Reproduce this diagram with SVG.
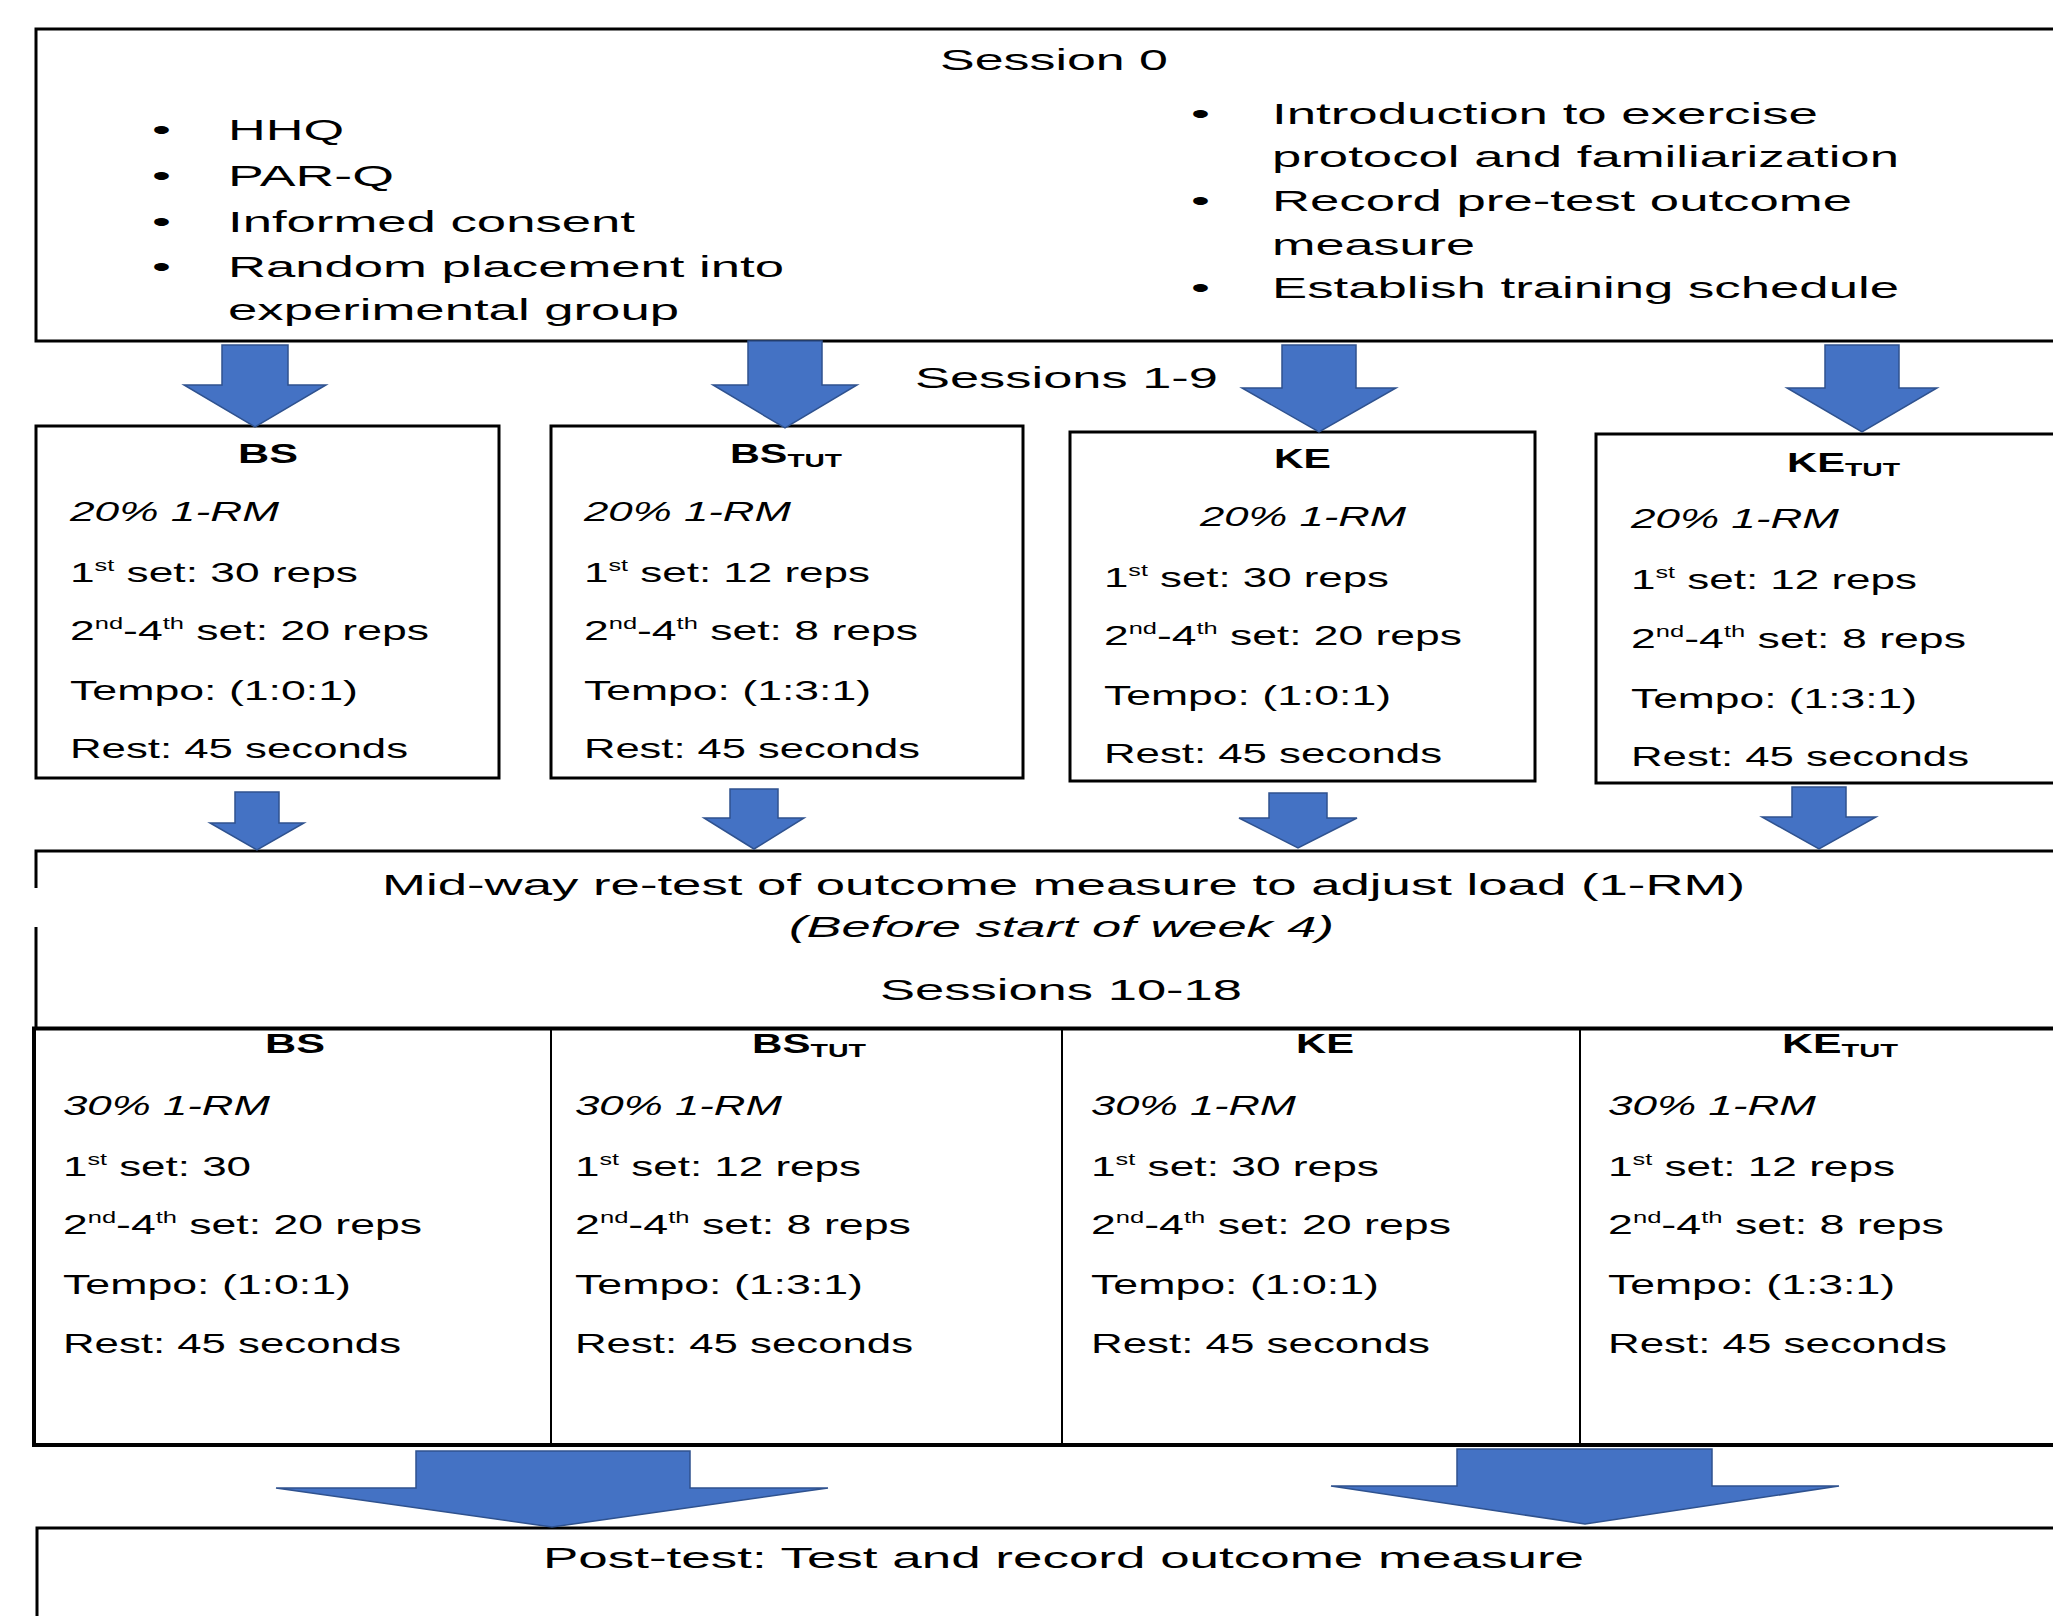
<svg xmlns="http://www.w3.org/2000/svg" width="2053" height="1616" viewBox="0 0 2053 1616">
<defs>
<style>
.t{font-family:"Liberation Sans",Arial,sans-serif;font-size:28px;fill:#000}
.big{font-size:30px}
.i{font-style:italic}
.b{font-weight:bold}
.ln{fill:none;stroke:#000;stroke-width:3}
.thin{fill:none;stroke:#000;stroke-width:2}
.thick{fill:none;stroke:#000;stroke-width:4}
.arr{fill:#4472C4;stroke:#2F528F;stroke-width:1.5}
</style>
</defs>
<rect width="2053" height="1616" fill="#fff"/>

<g id="session0">
<path class="ln" d="M2060 29 H36 V341 H2060"/>
<text class="t big" x="940" y="70" textLength="228" lengthAdjust="spacingAndGlyphs">Session 0</text>
<text class="t big" x="152" y="140" textLength="19" lengthAdjust="spacingAndGlyphs">•</text>
<text class="t big" x="152" y="186" textLength="19" lengthAdjust="spacingAndGlyphs">•</text>
<text class="t big" x="152" y="232" textLength="19" lengthAdjust="spacingAndGlyphs">•</text>
<text class="t big" x="152" y="277" textLength="19" lengthAdjust="spacingAndGlyphs">•</text>
<text class="t big" x="228" y="140" textLength="116" lengthAdjust="spacingAndGlyphs">HHQ</text>
<text class="t big" x="228" y="186" textLength="166" lengthAdjust="spacingAndGlyphs">PAR-Q</text>
<text class="t big" x="228" y="232" textLength="407" lengthAdjust="spacingAndGlyphs">Informed consent</text>
<text class="t big" x="228" y="277" textLength="556" lengthAdjust="spacingAndGlyphs">Random placement into</text>
<text class="t big" x="228" y="320" textLength="451" lengthAdjust="spacingAndGlyphs">experimental group</text>
<text class="t big" x="1191" y="124" textLength="19" lengthAdjust="spacingAndGlyphs">•</text>
<text class="t big" x="1191" y="211" textLength="19" lengthAdjust="spacingAndGlyphs">•</text>
<text class="t big" x="1191" y="298" textLength="19" lengthAdjust="spacingAndGlyphs">•</text>
<text class="t big" x="1272" y="124" textLength="546" lengthAdjust="spacingAndGlyphs">Introduction to exercise</text>
<text class="t big" x="1272" y="167" textLength="627" lengthAdjust="spacingAndGlyphs">protocol and familiarization</text>
<text class="t big" x="1272" y="211" textLength="580" lengthAdjust="spacingAndGlyphs">Record pre-test outcome</text>
<text class="t big" x="1272" y="255" textLength="203" lengthAdjust="spacingAndGlyphs">measure</text>
<text class="t big" x="1272" y="298" textLength="627" lengthAdjust="spacingAndGlyphs">Establish training schedule</text>
</g>

<g id="sessions1-9-label">
<text class="t big" x="915" y="388" textLength="303" lengthAdjust="spacingAndGlyphs">Sessions 1-9</text>
</g>

<g id="bs1">
<rect class="ln" x="36" y="426" width="463" height="352"/>
<text class="t b" x="238" y="463" textLength="60" lengthAdjust="spacingAndGlyphs">BS</text>
<text class="t i" x="70" y="521" textLength="209" lengthAdjust="spacingAndGlyphs">20% 1-RM</text>
<text class="t" x="70" y="582" textLength="288" lengthAdjust="spacingAndGlyphs">1<tspan font-size="16" dy="-11">st</tspan><tspan dy="11"> set: 30 reps</tspan></text>
<text class="t" x="70" y="640" textLength="359" lengthAdjust="spacingAndGlyphs">2<tspan font-size="16" dy="-11">nd</tspan><tspan dy="11">-4</tspan><tspan font-size="16" dy="-11">th</tspan><tspan dy="11"> set: 20 reps</tspan></text>
<text class="t" x="70" y="700" textLength="288" lengthAdjust="spacingAndGlyphs">Tempo: (1:0:1)</text>
<text class="t" x="70" y="758" textLength="338" lengthAdjust="spacingAndGlyphs">Rest: 45 seconds</text>
</g>

<g id="bstut1">
<rect class="ln" x="551" y="426" width="472" height="352"/>
<text class="t b" x="730" y="463" textLength="112" lengthAdjust="spacingAndGlyphs">BS<tspan font-size="19" dy="4">TUT</tspan></text>
<text class="t i" x="584" y="521" textLength="207" lengthAdjust="spacingAndGlyphs">20% 1-RM</text>
<text class="t" x="584" y="582" textLength="286" lengthAdjust="spacingAndGlyphs">1<tspan font-size="16" dy="-11">st</tspan><tspan dy="11"> set: 12 reps</tspan></text>
<text class="t" x="584" y="640" textLength="334" lengthAdjust="spacingAndGlyphs">2<tspan font-size="16" dy="-11">nd</tspan><tspan dy="11">-4</tspan><tspan font-size="16" dy="-11">th</tspan><tspan dy="11"> set: 8 reps</tspan></text>
<text class="t" x="584" y="700" textLength="287" lengthAdjust="spacingAndGlyphs">Tempo: (1:3:1)</text>
<text class="t" x="584" y="758" textLength="336" lengthAdjust="spacingAndGlyphs">Rest: 45 seconds</text>
</g>

<g id="ke1">
<rect class="ln" x="1070" y="432" width="465" height="349"/>
<text class="t b" x="1274" y="468" textLength="57" lengthAdjust="spacingAndGlyphs">KE</text>
<text class="t i" x="1200" y="526" textLength="206" lengthAdjust="spacingAndGlyphs">20% 1-RM</text>
<text class="t" x="1104" y="587" textLength="285" lengthAdjust="spacingAndGlyphs">1<tspan font-size="16" dy="-11">st</tspan><tspan dy="11"> set: 30 reps</tspan></text>
<text class="t" x="1104" y="645" textLength="358" lengthAdjust="spacingAndGlyphs">2<tspan font-size="16" dy="-11">nd</tspan><tspan dy="11">-4</tspan><tspan font-size="16" dy="-11">th</tspan><tspan dy="11"> set: 20 reps</tspan></text>
<text class="t" x="1104" y="705" textLength="287" lengthAdjust="spacingAndGlyphs">Tempo: (1:0:1)</text>
<text class="t" x="1104" y="763" textLength="338" lengthAdjust="spacingAndGlyphs">Rest: 45 seconds</text>
</g>

<g id="ketut1">
<path class="ln" d="M2060 434 H1596 V783 H2060"/>
<text class="t b" x="1787" y="472" textLength="113" lengthAdjust="spacingAndGlyphs">KE<tspan font-size="19" dy="4">TUT</tspan></text>
<text class="t i" x="1631" y="528" textLength="208" lengthAdjust="spacingAndGlyphs">20% 1-RM</text>
<text class="t" x="1631" y="589" textLength="286" lengthAdjust="spacingAndGlyphs">1<tspan font-size="16" dy="-11">st</tspan><tspan dy="11"> set: 12 reps</tspan></text>
<text class="t" x="1631" y="648" textLength="335" lengthAdjust="spacingAndGlyphs">2<tspan font-size="16" dy="-11">nd</tspan><tspan dy="11">-4</tspan><tspan font-size="16" dy="-11">th</tspan><tspan dy="11"> set: 8 reps</tspan></text>
<text class="t" x="1631" y="708" textLength="286" lengthAdjust="spacingAndGlyphs">Tempo: (1:3:1)</text>
<text class="t" x="1631" y="766" textLength="338" lengthAdjust="spacingAndGlyphs">Rest: 45 seconds</text>
</g>

<g id="midway">
<path class="ln" d="M2060 851 H36 V888 M36 927 V1028"/>
<text class="t big" x="382" y="895" textLength="1363" lengthAdjust="spacingAndGlyphs">Mid-way re-test of outcome measure to adjust load (1-RM)</text>
<text class="t big i" x="789" y="937" textLength="545" lengthAdjust="spacingAndGlyphs">(Before start of week 4)</text>
<text class="t big" x="880" y="1000" textLength="362" lengthAdjust="spacingAndGlyphs">Sessions 10-18</text>
</g>

<g id="table2">
<path class="thick" d="M2060 1028.5 H34 V1445 H2060"/>
<path class="thin" d="M551 1028 V1445 M1062 1028 V1445 M1580 1028 V1445"/>
</g>

<g id="bs2">
<text class="t b" x="265" y="1053" textLength="60" lengthAdjust="spacingAndGlyphs">BS</text>
<text class="t i" x="63" y="1115" textLength="207" lengthAdjust="spacingAndGlyphs">30% 1-RM</text>
<text class="t" x="63" y="1176" textLength="188" lengthAdjust="spacingAndGlyphs">1<tspan font-size="16" dy="-11">st</tspan><tspan dy="11"> set: 30</tspan></text>
<text class="t" x="63" y="1234" textLength="359" lengthAdjust="spacingAndGlyphs">2<tspan font-size="16" dy="-11">nd</tspan><tspan dy="11">-4</tspan><tspan font-size="16" dy="-11">th</tspan><tspan dy="11"> set: 20 reps</tspan></text>
<text class="t" x="63" y="1294" textLength="288" lengthAdjust="spacingAndGlyphs">Tempo: (1:0:1)</text>
<text class="t" x="63" y="1353" textLength="338" lengthAdjust="spacingAndGlyphs">Rest: 45 seconds</text>
</g>

<g id="bstut2">
<text class="t b" x="752" y="1053" textLength="114" lengthAdjust="spacingAndGlyphs">BS<tspan font-size="19" dy="4">TUT</tspan></text>
<text class="t i" x="575" y="1115" textLength="207" lengthAdjust="spacingAndGlyphs">30% 1-RM</text>
<text class="t" x="575" y="1176" textLength="286" lengthAdjust="spacingAndGlyphs">1<tspan font-size="16" dy="-11">st</tspan><tspan dy="11"> set: 12 reps</tspan></text>
<text class="t" x="575" y="1234" textLength="336" lengthAdjust="spacingAndGlyphs">2<tspan font-size="16" dy="-11">nd</tspan><tspan dy="11">-4</tspan><tspan font-size="16" dy="-11">th</tspan><tspan dy="11"> set: 8 reps</tspan></text>
<text class="t" x="575" y="1294" textLength="288" lengthAdjust="spacingAndGlyphs">Tempo: (1:3:1)</text>
<text class="t" x="575" y="1353" textLength="338" lengthAdjust="spacingAndGlyphs">Rest: 45 seconds</text>
</g>

<g id="ke2">
<text class="t b" x="1296" y="1053" textLength="58" lengthAdjust="spacingAndGlyphs">KE</text>
<text class="t i" x="1091" y="1115" textLength="205" lengthAdjust="spacingAndGlyphs">30% 1-RM</text>
<text class="t" x="1091" y="1176" textLength="288" lengthAdjust="spacingAndGlyphs">1<tspan font-size="16" dy="-11">st</tspan><tspan dy="11"> set: 30 reps</tspan></text>
<text class="t" x="1091" y="1234" textLength="360" lengthAdjust="spacingAndGlyphs">2<tspan font-size="16" dy="-11">nd</tspan><tspan dy="11">-4</tspan><tspan font-size="16" dy="-11">th</tspan><tspan dy="11"> set: 20 reps</tspan></text>
<text class="t" x="1091" y="1294" textLength="288" lengthAdjust="spacingAndGlyphs">Tempo: (1:0:1)</text>
<text class="t" x="1091" y="1353" textLength="339" lengthAdjust="spacingAndGlyphs">Rest: 45 seconds</text>
</g>

<g id="ketut2">
<text class="t b" x="1782" y="1053" textLength="116" lengthAdjust="spacingAndGlyphs">KE<tspan font-size="19" dy="4">TUT</tspan></text>
<text class="t i" x="1608" y="1115" textLength="208" lengthAdjust="spacingAndGlyphs">30% 1-RM</text>
<text class="t" x="1608" y="1176" textLength="287" lengthAdjust="spacingAndGlyphs">1<tspan font-size="16" dy="-11">st</tspan><tspan dy="11"> set: 12 reps</tspan></text>
<text class="t" x="1608" y="1234" textLength="336" lengthAdjust="spacingAndGlyphs">2<tspan font-size="16" dy="-11">nd</tspan><tspan dy="11">-4</tspan><tspan font-size="16" dy="-11">th</tspan><tspan dy="11"> set: 8 reps</tspan></text>
<text class="t" x="1608" y="1294" textLength="287" lengthAdjust="spacingAndGlyphs">Tempo: (1:3:1)</text>
<text class="t" x="1608" y="1353" textLength="339" lengthAdjust="spacingAndGlyphs">Rest: 45 seconds</text>
</g>

<g id="posttest">
<path class="ln" d="M2060 1528 H37 V1620"/>
<text class="t big" x="543" y="1568" textLength="1041" lengthAdjust="spacingAndGlyphs">Post-test: Test and record outcome measure</text>
</g>

<g id="connectors">
<polygon class="arr" points="222,345 288,345 288,385 326,385 255,427 184,385 222,385"/>
<polygon class="arr" points="748,341 822,341 822,385 857,385 785,428 713,385 748,385"/>
<polygon class="arr" points="1282,345 1356,345 1356,388 1396,388 1319,432 1242,388 1282,388"/>
<polygon class="arr" points="1825,345 1899,345 1899,388 1937,388 1862,432 1787,388 1825,388"/>
<polygon class="arr" points="235,792 279,792 279,823 304,823 257,850 210,823 235,823"/>
<polygon class="arr" points="730,789 778,789 778,818 804,818 754,849 704,818 730,818"/>
<polygon class="arr" points="1269,793 1327,793 1327,818 1357,818 1298,848 1239,818 1269,818"/>
<polygon class="arr" points="1792,787 1846,787 1846,817 1876,817 1819,849 1762,817 1792,817"/>
<polygon class="arr" points="416,1451 690,1451 690,1488 828,1488 552,1527 276,1488 416,1488"/>
<polygon class="arr" points="1457,1449 1712,1449 1712,1486 1839,1486 1585,1524 1331,1486 1457,1486"/>
</g>
</svg>
